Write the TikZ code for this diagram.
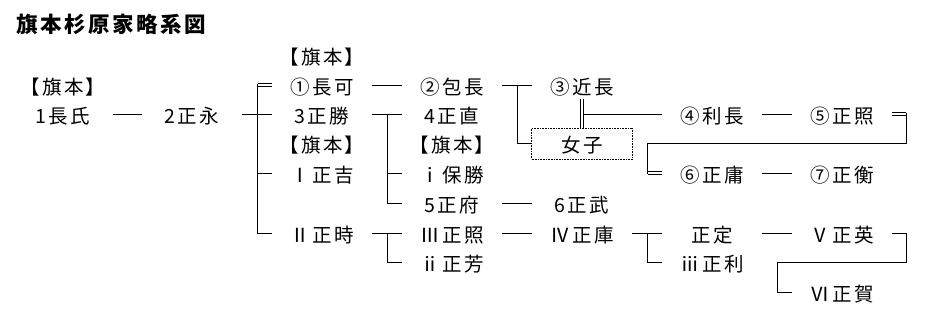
\documentclass[tikz,border=0pt]{standalone}
\usepackage{fontspec}
\setmainfont{Noto Sans CJK JP}
\newfontfamily\jpfont[LetterSpace=12]{Noto Sans CJK JP}
\newfontfamily\jptitle[LetterSpace=12]{Noto Sans CJK JP}
\usetikzlibrary{calc}
\tikzset{
  every picture/.style={line width=0.8pt},
  person/.style={font=\jpfont\fontsize{19.5pt}{22pt}\selectfont, minimum width=92pt, inner sep=0pt, text height=20pt, text depth=2pt},
  wife/.style={person, draw, densely dotted, line width=0.6pt, minimum width=101pt, minimum height=31pt},
  adopt/.style={double, double distance=1.6pt},
  heading/.style={font=\jptitle\bfseries\fontsize{21.5pt}{24pt}\selectfont, anchor=west, inner sep=0pt},
}

\begin{document}
\begin{tikzpicture}[x=1pt, y=-1pt]
  \useasboundingbox (0,0) rectangle (942,325);
  \node[heading] (title) at (16,24) {旗本杉原家略系図};
  % first two generations
  \node[person] (hata0) at (63,85) {【旗本】};
  \node[person] (nagauji) at (63,114) {1長氏};
  \node[person] (masanaga) at (192,114) {2正永};
  % sons of masanaga
  \node[person] (hata1) at (322,55.5) {【旗本】};
  \node[person] (nagayoshi) at (322,85) {①長可};
  \node[person] (masakatsu) at (322,114) {3正勝};
  \node[person] (hata2) at (322,143.5) {【旗本】};
  \node[person] (masayoshi) at (322,173) {Ⅰ正吉};
  \node[person] (masatoki) at (322,233) {Ⅱ正時};
  % third column
  \node[person] (kanenaga) at (452,85) {②包長};
  \node[person] (masanao) at (452,114) {4正直};
  \node[person] (hata3) at (452,143.5) {【旗本】};
  \node[person] (yasukatsu) at (452,173) {ⅰ保勝};
  \node[person] (masamoto) at (452,203) {5正府};
  \node[person] (masateru3) at (452,233) {Ⅲ正照};
  \node[person] (masayoshi2) at (452,262.5) {ⅱ正芳};
  % fourth column
  \node[person] (chikanaga) at (582,85) {③近長};
  \node[wife] (joshi) at (582,143.5) {女子};
  \node[person] (masatake) at (582,203) {6正武};
  \node[person] (masamura) at (582,233) {Ⅳ正庫};
  % last two columns
  \node[person] (toshinaga) at (712,114) {④利長};
  \node[person] (masatsune) at (712,173) {⑥正庸};
  \node[person] (masasada) at (712,233) {正定};
  \node[person] (masatoshi) at (712,262.5) {ⅲ正利};
  \node[person] (masateru) at (842,114) {⑤正照};
  \node[person] (masahira) at (842,173) {⑦正衡};
  \node[person] (masahide) at (842,233) {Ⅴ正英};
  \node[person] (masayoshi3) at (842,292) {Ⅵ正賀};
  % straight links
  \foreach \a/\b in {nagauji/masanaga, masanaga/masakatsu, nagayoshi/kanenaga, kanenaga/chikanaga,
                     masakatsu/masanao, masamoto/masatake, masatoki/masateru3, masateru3/masamura,
                     masamura/masasada, toshinaga/masateru, masatsune/masahira, masasada/masahide}
    \draw ([xshift=4pt]\a.east) -- ([xshift=-4pt]\b.west);
  % adopted heirs (double lines)
  \draw[adopt] ([xshift=-18pt]nagayoshi.west) -- ([xshift=-4pt]nagayoshi.west);
  \draw[adopt] ([xshift=4pt]masateru.east) -- ([xshift=18pt]masateru.east);
  \draw[adopt] ([xshift=-18pt]masatsune.west) -- ([xshift=-4pt]masatsune.west);
  \draw[adopt] ([yshift=-3pt]chikanaga.south) -- (joshi.north);
  % brackets
  \draw ([xshift=-18pt,yshift=1.2pt]nagayoshi.west) |- ([xshift=-4pt]masatoki.west);
  \foreach \a/\b in {masanao/masamoto, masateru3/masayoshi2, masasada/masatoshi}
    \draw ([xshift=-18pt]\a.west) |- ([xshift=-4pt]\b.west);
  \foreach \n in {masayoshi, yasukatsu}
    \draw ([xshift=-18pt]\n.west) -- ([xshift=-4pt]\n.west);
  \draw ([xshift=-18pt]chikanaga.west) |- (joshi.west);
  \draw ($(joshi.north |- toshinaga.west)+(1.2pt,0)$) -- ([xshift=-4pt]toshinaga.west);
  % line carried over to the next row
  \draw ([xshift=18pt,yshift=1.2pt]masateru.east) -- ($(masateru.east |- joshi)+(18pt,0)$)
    -| ([xshift=-18pt,yshift=-1.2pt]masatsune.west);
  \draw ([xshift=4pt]masahide.east) -- ([xshift=18pt]masahide.east)
    -- ($(masahide.east |- masatoshi)+(18pt,0)$) -| ([xshift=-18pt]masayoshi3.west)
    -- ([xshift=-4pt]masayoshi3.west);
\end{tikzpicture}
\end{document}
